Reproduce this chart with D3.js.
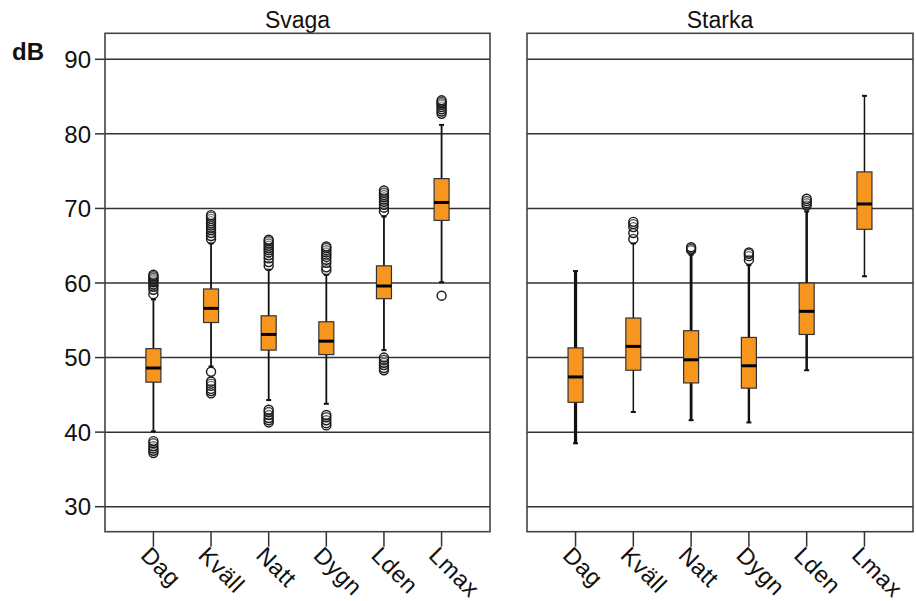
<!DOCTYPE html>
<html>
<head>
<meta charset="utf-8">
<script src="https://cdn.jsdelivr.net/npm/d3@7"></script>
<style>
  body { margin: 0; background: white; }
  text { font-family: "Liberation Sans", Arial, sans-serif; fill: #111; }
</style>
</head>
<body>
<div id="container"></div>
<script>
let w = 916;
let h = 601;

// DATA (dB)
let categories = ["Dag", "Kväll", "Natt", "Dygn", "Lden", "Lmax"];
let panels = ["Svaga", "Starka"];
let yTicks = [30, 40, 50, 60, 70, 80, 90];

let svagaLow    = [40.1, 48.8, 44.3, 43.8, 51.0, 60.1];
let svagaQ1     = [46.7, 54.7, 51.0, 50.4, 57.9, 68.4];
let svagaMedian = [48.6, 56.6, 53.1, 52.2, 59.6, 70.8];
let svagaQ3     = [51.2, 59.2, 55.6, 54.8, 62.3, 74.0];
let svagaHigh   = [57.8, 65.3, 61.8, 61.1, 68.9, 81.2];
let svagaOutliers = [
  [37.2, 37.5, 37.8, 38.1, 38.5, 38.8, 58.5, 59.1, 59.5, 59.8, 60.1, 60.3, 60.5, 60.7, 60.9, 61.1],
  [45.2, 45.5, 45.8, 46.2, 46.5, 46.8, 48.1, 65.9, 66.3, 66.7, 67.1, 67.4, 67.7, 68.0, 68.3, 68.6, 68.9, 69.1],
  [41.3, 41.6, 41.9, 42.3, 42.7, 43.0, 62.3, 62.8, 63.3, 63.7, 64.1, 64.4, 64.7, 65.0, 65.3, 65.6, 65.8],
  [40.9, 41.2, 41.6, 42.0, 42.3, 61.7, 62.1, 62.7, 63.1, 63.5, 63.8, 64.1, 64.4, 64.7, 64.9],
  [48.3, 48.6, 49.0, 49.3, 49.7, 50.0, 69.6, 70.1, 70.5, 70.9, 71.2, 71.5, 71.8, 72.1, 72.4],
  [58.3, 82.7, 83.0, 83.3, 83.6, 83.9, 84.1, 84.3, 84.5]
];

let starkaLow    = [38.5, 42.7, 41.6, 41.3, 48.3, 60.9];
let starkaQ1     = [44.0, 48.3, 46.6, 45.9, 53.1, 67.2];
let starkaMedian = [47.4, 51.5, 49.7, 48.9, 56.2, 70.6];
let starkaQ3     = [51.3, 55.3, 53.6, 52.7, 60.0, 74.9];
let starkaHigh   = [61.6, 65.3, 63.8, 62.4, 69.6, 85.1];
let starkaOutliers = [
  [],
  [65.9, 66.7, 67.5, 67.9, 68.2],
  [64.4, 64.6, 64.8],
  [63.1, 63.6, 63.9, 64.1],
  [70.4, 70.7, 71.0, 71.3],
  []
];

// whisker line widths differ between the two panels in the original
let whiskerWidth = {
  Svaga:  [1.8, 1.8, 1.8, 1.8, 1.8, 1.8],
  Starka: [3.2, 1.5, 2.8, 2.4, 2.5, 1.5]
};

function buildRows(low, q1, med, q3, high, outl) {
  return categories.map(function(c, i) {
    return { cat: c, low: low[i], q1: q1[i], med: med[i], q3: q3[i], high: high[i], out: outl[i], i: i };
  });
}
let panelData = {
  Svaga: buildRows(svagaLow, svagaQ1, svagaMedian, svagaQ3, svagaHigh, svagaOutliers),
  Starka: buildRows(starkaLow, starkaQ1, starkaMedian, starkaQ3, starkaHigh, starkaOutliers)
};

// LAYOUT
let panelTop = 33.3;
let panelBottom = 531.7;
let panelX = { Svaga: [105, 490], Starka: [527, 913] };

let yScale = d3.scaleLinear().domain([30, 90]).range([506.7, 59.3]);

let viz = d3.select("#container").append("svg")
    .attr("width", w)
    .attr("height", h)
    .style("background-color", "white")
;

// y axis on the left panel
viz.selectAll(".ytick").data(yTicks).enter()
  .append("line")
    .attr("x1", 95).attr("x2", 105)
    .attr("y1", function(d){ return yScale(d); })
    .attr("y2", function(d){ return yScale(d); })
    .attr("stroke", "#333").attr("stroke-width", 1.5)
;
viz.selectAll(".ylabel").data(yTicks).enter()
  .append("text")
    .attr("x", 91)
    .attr("y", function(d){ return yScale(d); })
    .attr("dy", "0.36em")
    .attr("text-anchor", "end")
    .style("font-size", "24px")
    .text(function(d){ return d; })
;
viz.append("text")
    .attr("x", 12).attr("y", 60)
    .style("font-size", "24px")
    .style("font-weight", "bold")
    .text("dB")
;

panels.forEach(function(p) {
  let x0 = panelX[p][0], x1 = panelX[p][1];
  let xScale = d3.scalePoint().domain(categories).range([x0, x1]).padding(0.84);
  let g = viz.append("g").attr("class", "panel");

  // title
  g.append("text")
    .attr("x", (x0 + x1) / 2).attr("y", 28)
    .attr("text-anchor", "middle")
    .style("font-size", "23px")
    .text(p);

  // gridlines
  g.selectAll(".grid").data(yTicks).enter()
    .append("line")
      .attr("x1", x0).attr("x2", x1)
      .attr("y1", function(d){ return yScale(d); })
      .attr("y2", function(d){ return yScale(d); })
      .attr("stroke", "#333").attr("stroke-width", 1.5);

  // frame
  g.append("rect")
    .attr("x", x0).attr("y", panelTop)
    .attr("width", x1 - x0).attr("height", panelBottom - panelTop)
    .attr("fill", "none").attr("stroke", "#444").attr("stroke-width", 1.6);

  // x ticks + labels
  g.selectAll(".xtick").data(categories).enter()
    .append("line")
      .attr("x1", function(d){ return xScale(d); })
      .attr("x2", function(d){ return xScale(d); })
      .attr("y1", panelBottom).attr("y2", panelBottom + 15)
      .attr("stroke", "#333").attr("stroke-width", 1.5);
  g.selectAll(".xlabel").data(categories).enter()
    .append("text")
      .attr("transform", function(d){ return "translate(" + (xScale(d) - 2) + "," + (panelBottom + 13) + ") rotate(45)"; })
      .attr("dy", "0.72em")
      .style("font-size", "23.5px")
      .style("letter-spacing", "0.5px")
      .text(function(d){ return d; });

  let rows = panelData[p];
  let bw = 15;

  // whiskers
  g.selectAll(".whisker").data(rows).enter()
    .append("line")
      .attr("x1", function(d){ return xScale(d.cat); })
      .attr("x2", function(d){ return xScale(d.cat); })
      .attr("y1", function(d){ return yScale(d.low); })
      .attr("y2", function(d){ return yScale(d.high); })
      .attr("stroke", "#111")
      .attr("stroke-width", function(d){ return whiskerWidth[p][d.i]; });
  ["low", "high"].forEach(function(k) {
    g.selectAll(".cap-" + k).data(rows).enter()
      .append("line")
        .attr("x1", function(d){ return xScale(d.cat) - 2.5; })
        .attr("x2", function(d){ return xScale(d.cat) + 2.5; })
        .attr("y1", function(d){ return yScale(d[k]); })
        .attr("y2", function(d){ return yScale(d[k]); })
        .attr("stroke", "#111").attr("stroke-width", 2);
  });

  // outliers
  rows.forEach(function(r) {
    g.selectAll(".out-" + r.i).data(r.out).enter()
      .append("circle")
        .attr("cx", xScale(r.cat))
        .attr("cy", function(d){ return yScale(d); })
        .attr("r", 4.5)
        .attr("fill", "white")
        .attr("fill-opacity", 0.2)
        .attr("stroke", "#1a1a1a")
        .attr("stroke-width", 1.4);
  });

  // boxes
  g.selectAll(".box").data(rows).enter()
    .append("rect")
      .attr("x", function(d){ return xScale(d.cat) - bw / 2; })
      .attr("y", function(d){ return yScale(d.q3); })
      .attr("width", bw)
      .attr("height", function(d){ return yScale(d.q1) - yScale(d.q3); })
      .attr("fill", "#f7961e")
      .attr("stroke", "#333").attr("stroke-width", 1.2);
  g.selectAll(".median").data(rows).enter()
    .append("line")
      .attr("x1", function(d){ return xScale(d.cat) - bw / 2; })
      .attr("x2", function(d){ return xScale(d.cat) + bw / 2; })
      .attr("y1", function(d){ return yScale(d.med); })
      .attr("y2", function(d){ return yScale(d.med); })
      .attr("stroke", "#000").attr("stroke-width", 3);
});
</script>
</body>
</html>
